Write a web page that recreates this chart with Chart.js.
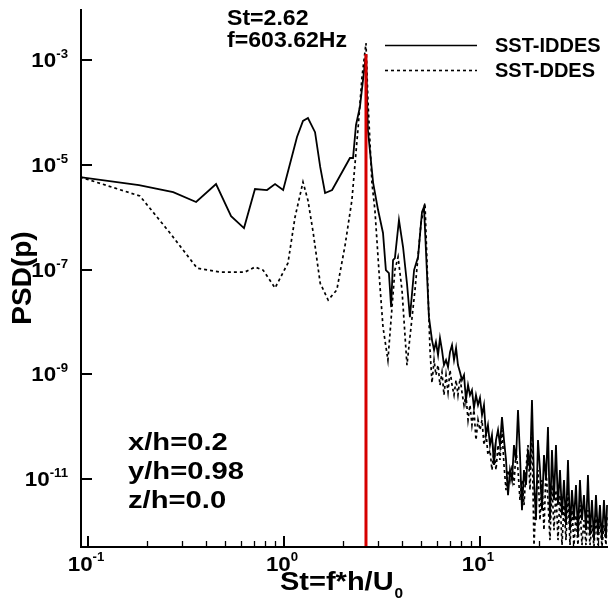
<!DOCTYPE html>
<html>
<head>
<meta charset="utf-8">
<script src="https://cdn.jsdelivr.net/npm/chart.js@4/dist/chart.umd.min.js"></script>
<style>
  html, body { margin: 0; padding: 0; background: #fff; overflow: hidden; }
  canvas { display: block; }
</style>
</head>
<body>
<canvas id="psd" width="608" height="604"></canvas>
<script>
// Strouhal numbers and PSD values, SST-IDDES (solid)
const stIDDES = [0.091,0.182,0.272,0.356,0.450,0.537,0.625,0.711,0.819,0.90,0.99,1.165,1.25,1.325,1.44,1.53,1.62,1.76,2.17,2.25,2.33,2.44,2.62,2.68,2.85,3.02,3.20,3.31,3.43,3.52,3.60,3.68,3.86,4.05,4.24,4.39,4.61,4.83,5.06,5.18,5.49,
  5.69,5.83,5.96,6.11,6.25,6.40,6.55,6.71,6.87,7.03,7.20,7.37,7.55,7.72,7.91,8.09,8.29,8.48,8.69,8.89,9.10,9.32,9.54,9.77,10.0,10.24,10.48,10.73,10.98,11.25,11.51,11.79,12.07,12.36,12.65,12.95,13.26,13.58,13.90,14.23,14.57,14.91,15.27,15.63,16.00,16.38,16.77,17.17,17.58,18.00,18.42,18.86,19.31,19.77,20.24,20.72,21.21,21.72,22.23,22.76,23.30,23.86,24.42,25.00,25.60,26.21,26.83,27.47,28.12,28.79,29.47,30.17,30.89,31.62,32.37,33.14,33.93,34.74,35.56,36.41,37.27,38.16,39.07,39.99,40.94,41.91,42.92,43.94,44.5];
const psdIDDES = [5.85e-6,4.1e-6,3.0e-6,1.95e-6,4.3e-6,1.05e-6,6.2e-7,3.45e-6,3.3e-6,4.3e-6,3.3e-6,3.4e-5,6.9e-5,7.8e-5,4.2e-5,9.1e-6,2.9e-6,3.3e-6,1.35e-5,1.35e-5,5.75e-5,1.27e-4,1.3e-3,4.6e-5,4.5e-6,1.37e-6,5.0e-7,9.8e-8,8.6e-8,1.93e-8,1.52e-7,1.66e-7,8.85e-7,2.7e-7,5.5e-8,1.24e-8,9.8e-8,1.74e-7,1.26e-6,1.57e-6,1.24e-8,
  4.53e-9,2.92e-9,4.15e-9,2.35e-9,4.95e-9,2.92e-9,1.51e-9,1.88e-9,1.38e-9,2.67e-9,3.64e-9,1.88e-9,3.2e-9,1.51e-9,1.1e-9,7.82e-10,9.75e-10,3.25e-10,6.28e-10,4.05e-10,5.04e-10,2.3e-10,4.05e-10,2.61e-10,3.6e-10,1.68e-10,2.61e-10,6.98e-11,1.08e-10,4.5e-11,6.98e-11,1.87e-11,5.6e-11,8.69e-11,4.5e-11,1.54e-10,5.6e-11,2.33e-11,4.99e-12,1.5e-11,9.66e-12,4.5e-11,2.33e-11,2.09e-10,2.9e-11,2.58e-12,1.5e-11,7.75e-12,3.61e-11,1.5e-11,3.25e-10,9.66e-12,1.66e-12,5.6e-11,1.5e-11,2.58e-12,2.9e-11,9.66e-12,9.9e-11,1.66e-12,3.61e-11,4.01e-12,4.5e-11,3.22e-12,1.5e-11,2.07e-12,9.66e-12,1.34e-12,2.33e-11,1.07e-12,6.22e-12,1.66e-12,7.75e-12,8.61e-13,9.66e-12,1.66e-12,4.99e-12,1.07e-12,1.2e-11,8.61e-13,4.01e-12,6.91e-13,4.99e-12,8.61e-13,3.22e-12,6.91e-13,4.01e-12,7.5e-13,3.22e-12];

// SST-DDES (dashed)
const stDDES = [0.091,0.184,0.262,0.36,0.471,0.632,0.711,0.782,0.90,1.048,1.138,1.25,1.325,1.41,1.53,1.68,1.86,2.05,2.22,2.39,2.50,2.62,2.68,2.81,2.91,3.09,3.20,3.39,3.68,3.82,4.0,4.24,4.66,5.0,5.24,5.56,
  5.69,5.83,5.96,6.11,6.25,6.40,6.55,6.71,6.87,7.03,7.20,7.37,7.55,7.72,7.91,8.09,8.29,8.48,8.69,8.89,9.10,9.32,9.54,9.77,10.0,10.24,10.48,10.73,10.98,11.25,11.51,11.79,12.07,12.36,12.65,12.95,13.26,13.58,13.90,14.23,14.57,14.91,15.27,15.63,16.00,16.38,16.77,17.17,17.58,18.00,18.42,18.86,19.31,19.77,20.24,20.72,21.21,21.72,22.23,22.76,23.30,23.86,24.42,25.00,25.60,26.21,26.83,27.47,28.12,28.79,29.47,30.17,30.89,31.62,32.37,33.14,33.93,34.74,35.56,36.41,37.27,38.16,39.07,39.99,40.94,41.91,42.92,43.94,44.5];
const psdDDES = [5.85e-6,2.54e-6,5.0e-7,1.07e-7,9.0e-8,9.0e-8,1.12e-7,9.8e-8,4.46e-8,1.34e-7,1.0e-6,4.7e-6,2.1e-6,5.0e-7,5.5e-8,2.63e-8,4.1e-8,2.94e-7,2.1e-6,5.26e-5,4.7e-4,2.1e-3,1.73e-4,4.5e-6,1.37e-6,4.66e-8,8.0e-9,1.88e-9,9.8e-8,1.74e-7,4.1e-8,1.51e-9,4.1e-8,7.7e-7,1.87e-6,2.9e-9,
  6.9e-10,1.88e-9,9.75e-10,1.51e-9,6.28e-10,1.1e-9,4.05e-10,9.75e-10,4.6e-10,1.21e-9,6.28e-10,4.05e-10,7.82e-10,4.05e-10,8.5e-10,4.6e-10,2.61e-10,4.05e-10,1.35e-10,2.61e-10,1.08e-10,2.09e-10,5.6e-11,1.35e-10,8.69e-11,1.35e-10,4.5e-11,7.9e-11,2.9e-11,3.61e-11,1.5e-11,3.61e-11,1.5e-11,4.5e-11,2.33e-11,8.69e-11,1.87e-11,6.22e-12,1.5e-11,9.66e-12,1.87e-11,7.75e-12,3.61e-11,1.5e-11,4.01e-12,9.66e-12,3.22e-12,1.5e-11,4.5e-11,6.22e-12,8.69e-11,5.55e-13,4.01e-12,1.5e-11,1.66e-12,9.66e-12,1.07e-12,1.5e-11,4.01e-12,6.91e-13,7.75e-12,1.07e-12,6.22e-12,6.91e-13,4.99e-12,5.55e-13,3.22e-12,6.91e-13,6.22e-12,5.55e-13,2.58e-12,5.55e-13,2.07e-12,5.55e-13,3.22e-12,5.55e-13,1.66e-12,5.55e-13,2.58e-12,5.55e-13,1.34e-12,5.2e-13,2.07e-12,5.55e-13,1.66e-12,5.2e-13,1.34e-12,5.55e-13,2.07e-12];

// dominant frequency marker
const peakSt = 2.62;
const peakPsd = 1.3e-3;

// axis ranges and ticks
const xMin = 0.091, xMax = 45;
const yMin = 5.1e-13, yMax = 9.4e-3;
const xMajor = [0.1, 1, 10];
const xMajorExp = ["-1", "0", "1"];
const xMinor = [0.2,0.3,0.4,0.5,0.6,0.7,0.8,0.9,2,3,4,5,6,7,8,9,20,30,40];
const yMajor = [1e-3, 1e-5, 1e-7, 1e-9, 1e-11];
const yMajorExp = ["-3", "-5", "-7", "-9", "-11"];
const probeText = ["x/h=0.2", "y/h=0.98", "z/h=0.0"];

const FONT = '"Liberation Sans", Arial, Helvetica, sans-serif';

function pts(xs, ys) {
  return xs.map((x, i) => ({ x, y: ys[i] }));
}

// text with a horizontal stretch (the original uses a wide Helvetica)
function txt(ctx, s, x, y, size, sx, align) {
  ctx.save();
  ctx.font = `bold ${size}px ${FONT}`;
  const w = ctx.measureText(s).width * sx;
  let x0 = x;
  if (align === "right") x0 = x - w;
  else if (align === "center") x0 = x - w / 2;
  ctx.translate(x0, y);
  ctx.scale(sx, 1);
  ctx.textAlign = "left";
  ctx.fillStyle = "#000";
  ctx.fillText(s, 0, 0);
  ctx.restore();
  return w;
}
function measure(ctx, s, size, sx) {
  ctx.save();
  ctx.font = `bold ${size}px ${FONT}`;
  const w = ctx.measureText(s).width * sx;
  ctx.restore();
  return w;
}

const axesPlugin = {
  id: "tecplotAxes",
  afterDatasetsDraw(chart) {
    const { ctx, chartArea: a, scales: { x, y } } = chart;
    ctx.save();
    ctx.strokeStyle = "#000";
    ctx.lineWidth = 2;
    ctx.lineCap = "butt";
    // axis lines
    ctx.beginPath();
    ctx.moveTo(a.left + 1, a.top);
    ctx.lineTo(a.left + 1, a.bottom);
    ctx.lineTo(a.right, a.bottom);
    ctx.stroke();

    // x ticks (inside)
    xMajor.forEach((v) => {
      const px = Math.round(x.getPixelForValue(v));
      ctx.beginPath(); ctx.moveTo(px, a.bottom); ctx.lineTo(px, a.bottom - 11); ctx.stroke();
    });
    ctx.lineWidth = 1.3;
    xMinor.forEach((v) => {
      const px = Math.round(x.getPixelForValue(v)) + 0.5;
      ctx.beginPath(); ctx.moveTo(px, a.bottom); ctx.lineTo(px, a.bottom - 6); ctx.stroke();
    });
    // y ticks (inside)
    ctx.lineWidth = 2;
    yMajor.forEach((v) => {
      const py = Math.round(y.getPixelForValue(v));
      ctx.beginPath(); ctx.moveTo(a.left, py); ctx.lineTo(a.left + 12, py); ctx.stroke();
    });

    // y tick labels 10^n
    yMajor.forEach((v, i) => {
      const py = y.getPixelForValue(v);
      const ws = measure(ctx, yMajorExp[i], 12, 1.1);
      const w10 = measure(ctx, "10", 20, 1.12);
      const x0 = 68 - ws - w10;
      txt(ctx, "10", x0, py + 7, 20, 1.12);
      txt(ctx, yMajorExp[i], x0 + w10, py - 2, 12, 1.1);
    });
    // x tick labels 10^n
    xMajor.forEach((v, i) => {
      const px = x.getPixelForValue(v);
      const ws = measure(ctx, xMajorExp[i], 12, 1.1);
      const w10 = measure(ctx, "10", 20, 1.12);
      const x0 = px - 2 - (ws + w10) / 2;
      txt(ctx, "10", x0, a.bottom + 24, 20, 1.12);
      txt(ctx, xMajorExp[i], x0 + w10, a.bottom + 14, 12, 1.1);
    });

    // axis titles
    const wt = txt(ctx, "St=f*h/U", 280, 590, 25, 1.16);
    txt(ctx, "0", 280 + wt + 1, 598, 14, 1.1);
    ctx.save();
    ctx.translate(31, 278);
    ctx.rotate(-Math.PI / 2);
    ctx.font = `bold 28px ${FONT}`;
    ctx.textAlign = "center";
    ctx.fillStyle = "#000";
    ctx.fillText("PSD(p)", 0, 0);
    ctx.restore();

    // peak annotation
    txt(ctx, "St=" + peakSt.toFixed(2), 227, 25, 22, 1.05);
    txt(ctx, "f=603.62Hz", 227, 47, 22, 1.05);

    // probe location
    probeText.forEach((s, i) => txt(ctx, s, 128, 450 + i * 29, 23, 1.27));

    // legend
    ctx.lineWidth = 1.6;
    ctx.beginPath(); ctx.moveTo(385, 45.5); ctx.lineTo(477, 45.5); ctx.stroke();
    ctx.setLineDash([3, 3]);
    ctx.beginPath(); ctx.moveTo(385, 70.5); ctx.lineTo(477, 70.5); ctx.stroke();
    ctx.setLineDash([]);
    txt(ctx, "SST-IDDES", 495, 52, 20, 1.0);
    txt(ctx, "SST-DDES", 495, 77, 20, 1.0);
    ctx.restore();
  }
};

new Chart(document.getElementById("psd"), {
  type: "line",
  data: {
    datasets: [
      {
        label: "St=2.62",
        data: [{ x: peakSt, y: yMin }, { x: peakSt, y: peakPsd }],
        borderColor: "#d60000",
        borderWidth: 3,
        pointRadius: 0,
      },
      {
        label: "SST-IDDES",
        data: pts(stIDDES, psdIDDES),
        borderColor: "#000",
        borderWidth: 1.8,
        pointRadius: 0,
      },
      {
        label: "SST-DDES",
        data: pts(stDDES, psdDDES),
        borderColor: "#000",
        borderWidth: 1.7,
        borderDash: [3, 3],
        pointRadius: 0,
      },
    ],
  },
  options: {
    responsive: false,
    animation: false,
    devicePixelRatio: 1,
    layout: { padding: { left: 80, top: 9, right: 0, bottom: 57 } },
    elements: { line: { tension: 0, fill: false } },
    plugins: { legend: { display: false }, tooltip: { enabled: false } },
    scales: {
      x: { type: "logarithmic", min: xMin, max: xMax, display: false },
      y: { type: "logarithmic", min: yMin, max: yMax, display: false },
    },
  },
  plugins: [axesPlugin],
});
</script>
</body>
</html>
